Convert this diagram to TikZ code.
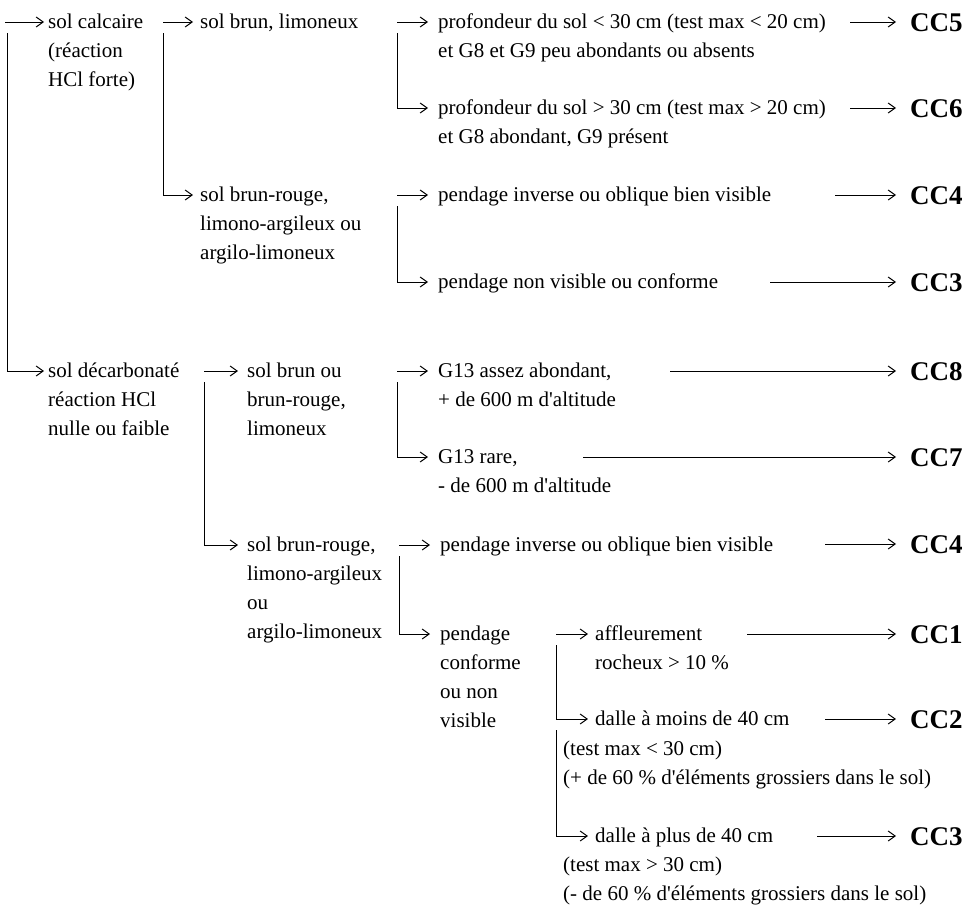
\documentclass[tikz,border=0pt]{standalone}
\usepackage{fontspec}
\setmainfont{Liberation Serif}
\usetikzlibrary{arrows.meta}
\newcommand{\mlines}[1]{\begin{tabular}[t]{@{}l@{}}#1\end{tabular}}
\newcommand{\apos}{\textquotesingle}
\begin{document}
\begin{tikzpicture}[x=1pt,y=-1pt,
  txt/.style={anchor=base west, inner sep=0pt, font=\fontsize{21}{29}\selectfont},
  cc/.style={anchor=base west, inner sep=0pt, font=\fontsize{27}{29}\selectfont\bfseries},
  arr/.style={line width=1pt, -{Straight Barb[length=7pt,width=10pt]}},
  ]
\useasboundingbox (0,0) rectangle (973,918);

% ---------- text nodes ----------
\node[txt] (calc)   at (48,28)  {\mlines{sol calcaire\\(réaction\\HCl forte)}};
\node[txt] (decarb) at (48,377) {\mlines{sol décarbonaté\\réaction HCl\\nulle ou faible}};

\node[txt] (bl)  at (200,28)  {sol brun, limoneux};
\node[txt] (brA) at (200,201) {\mlines{sol brun-rouge,\\limono-argileux ou\\argilo-limoneux}};
\node[txt] (bbr) at (247,377) {\mlines{sol brun ou\\brun-rouge,\\limoneux}};
\node[txt] (brB) at (247,551) {\mlines{sol brun-rouge,\\limono-argileux\\ou\\argilo-limoneux}};

\node[txt] (p1)  at (438,28)  {\mlines{profondeur du sol < 30 cm (test max < 20 cm)\\et G8 et G9 peu abondants ou absents}};
\node[txt] (p2)  at (438,114) {\mlines{profondeur du sol > 30 cm (test max > 20 cm)\\et G8 abondant, G9 présent}};
\node[txt] (pi1) at (438,201) {pendage inverse ou oblique bien visible};
\node[txt] (pn1) at (438,288) {pendage non visible ou conforme};
\node[txt] (g1)  at (438,377) {\mlines{G13 assez abondant,\\+ de 600 m d\apos altitude}};
\node[txt] (g2)  at (438,463) {\mlines{G13 rare,\\- de 600 m d\apos altitude}};
\node[txt] (pi2) at (440,551) {pendage inverse ou oblique bien visible};
\node[txt] (pc)  at (440,640) {\mlines{pendage\\conforme\\ou non\\visible}};

\node[txt] (af)  at (595,640) {\mlines{affleurement\\rocheux > 10 \%}};
\node[txt] (d1)  at (595,725) {dalle à moins de 40 cm};
\node[txt] (d1b) at (563,755) {\mlines{(test max < 30 cm)\\(+ de 60 \% d\apos éléments grossiers dans le sol)}};
\node[txt] (d2)  at (595,842) {dalle à plus de 40 cm};
\node[txt] (d2b) at (563,871) {\mlines{(test max > 30 cm)\\(- de 60 \% d\apos éléments grossiers dans le sol)}};

% ---------- result labels ----------
\node[cc] (cc5)  at (910,31)  {CC5};
\node[cc] (cc6)  at (910,117) {CC6};
\node[cc] (cc4a) at (910,204) {CC4};
\node[cc] (cc3a) at (910,291) {CC3};
\node[cc] (cc8)  at (910,380) {CC8};
\node[cc] (cc7)  at (910,466) {CC7};
\node[cc] (cc4b) at (910,553) {CC4};
\node[cc] (cc1)  at (910,643) {CC1};
\node[cc] (cc2)  at (910,728) {CC2};
\node[cc] (cc3b) at (910,845) {CC3};

% ---------- branch points ----------
\coordinate (jA)  at (5,22);
\coordinate (jB1) at (163,22);
\coordinate (jB2) at (204,371);
\coordinate (jC1) at (397,22);
\coordinate (jC2) at (397,195);
\coordinate (jC3) at (397,371);
\coordinate (jC4) at (399,545);
\coordinate (jD1) at (556,634);
\coordinate (jD2) at (556,719);

% ---------- branch connectors ----------
\draw[arr] (jA) -- ([xshift=-4pt,yshift=6pt]calc.base west);
\draw[arr] ([xshift=2pt,yshift=-11pt]jA) |- ([xshift=-4pt,yshift=6pt]decarb.base west);

\draw[arr] (jB1) -- ([xshift=-7pt,yshift=6pt]bl.base west);
\draw[arr] ([yshift=-11pt]jB1) |- ([xshift=-7pt,yshift=6pt]brA.base west);
\draw[arr] (jB2) -- ([xshift=-9pt,yshift=6pt]bbr.base west);
\draw[arr] ([yshift=-11pt]jB2) |- ([xshift=-9pt,yshift=6pt]brB.base west);

\draw[arr] (jC1) -- ([xshift=-10pt,yshift=6pt]p1.base west);
\draw[arr] ([yshift=-11pt]jC1) |- ([xshift=-10pt,yshift=6pt]p2.base west);
\draw[arr] (jC2) -- ([xshift=-10pt,yshift=6pt]pi1.base west);
\draw[arr] ([yshift=-11pt]jC2) |- ([xshift=-10pt,yshift=6pt]pn1.base west);
\draw[arr] (jC3) -- ([xshift=-10pt,yshift=6pt]g1.base west);
\draw[arr] ([yshift=-11pt]jC3) |- ([xshift=-10pt,yshift=6pt]g2.base west);
\draw[arr] (jC4) -- ([xshift=-10pt,yshift=6pt]pi2.base west);
\draw[arr] ([yshift=-11pt]jC4) |- ([xshift=-10pt,yshift=6pt]pc.base west);

\draw[arr] (jD1) -- ([xshift=-7pt,yshift=6pt]af.base west);
\draw[arr] ([yshift=-11pt]jD1) |- ([xshift=-7pt,yshift=6pt]d1.base west);
\draw[arr] ([yshift=-11pt]jD2) |- ([xshift=-7pt,yshift=6pt]d2.base west);

% ---------- result arrows ----------
\coordinate (e5)  at (850,22);
\coordinate (e6)  at (850,108);
\coordinate (e4a) at (835,195);
\coordinate (e3a) at (770,282);
\coordinate (e8)  at (670,371);
\coordinate (e7)  at (583,457);
\coordinate (e4b) at (825,544);
\coordinate (e1)  at (747,634);
\coordinate (e2)  at (825,719);
\coordinate (e3b) at (817,836);
\draw[arr] (e5)  -- ([xshift=-14pt,yshift=9pt]cc5.base west);
\draw[arr] (e6)  -- ([xshift=-14pt,yshift=9pt]cc6.base west);
\draw[arr] (e4a) -- ([xshift=-14pt,yshift=9pt]cc4a.base west);
\draw[arr] (e3a) -- ([xshift=-14pt,yshift=9pt]cc3a.base west);
\draw[arr] (e8)  -- ([xshift=-14pt,yshift=9pt]cc8.base west);
\draw[arr] (e7)  -- ([xshift=-14pt,yshift=9pt]cc7.base west);
\draw[arr] (e4b) -- ([xshift=-14pt,yshift=9pt]cc4b.base west);
\draw[arr] (e1)  -- ([xshift=-14pt,yshift=9pt]cc1.base west);
\draw[arr] (e2)  -- ([xshift=-14pt,yshift=9pt]cc2.base west);
\draw[arr] (e3b) -- ([xshift=-14pt,yshift=9pt]cc3b.base west);
\end{tikzpicture}
\end{document}
